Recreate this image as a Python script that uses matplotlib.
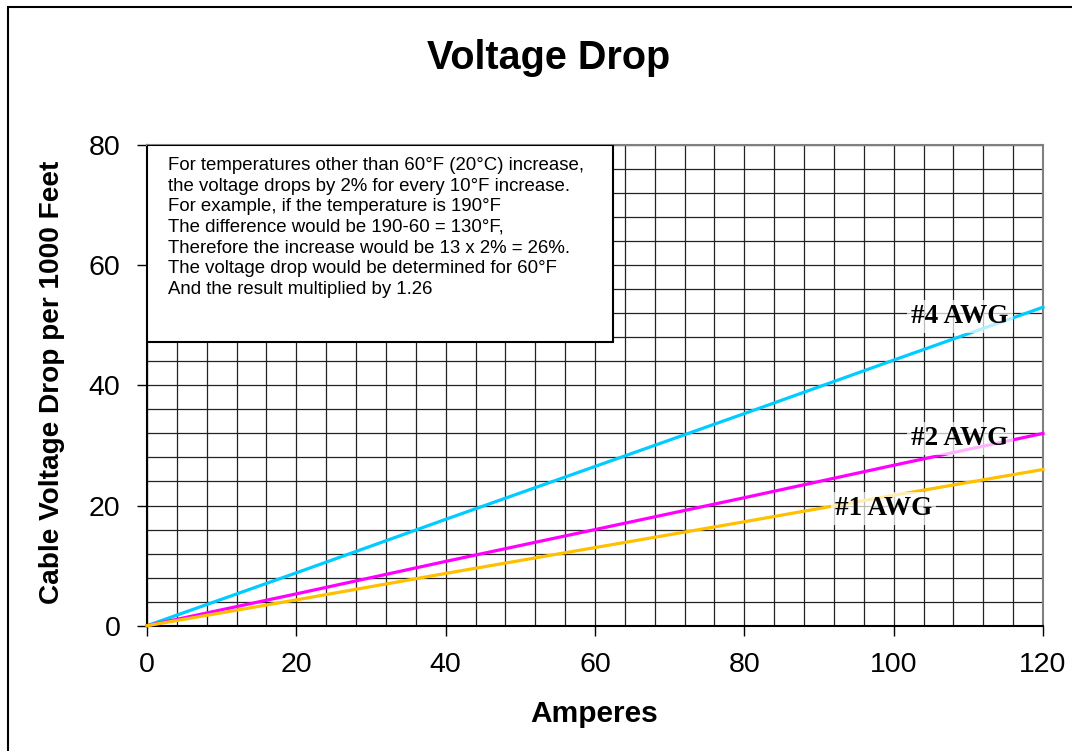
import matplotlib
matplotlib.use("Agg")
import matplotlib.pyplot as plt
from matplotlib.patches import Rectangle
from matplotlib.ticker import MultipleLocator

amperes = [0, 20, 40, 60, 80, 100, 120]
awg4 = [0, 8.8, 17.7, 26.5, 35.3, 44.2, 53.0]
awg2 = [0, 5.3, 10.7, 16.0, 21.3, 26.7, 32.0]
awg1 = [0, 4.3, 8.7, 13.0, 17.3, 21.7, 26.0]
series_names = ["#4 AWG", "#2 AWG", "#1 AWG"]
series_colors = ["#00CCFF", "#FF00FF", "#FFC000"]

note_lines = [
    "For temperatures other than 60°F (20°C) increase,",
    "the voltage drops by 2% for every 10°F increase.",
    "For example, if the temperature is 190°F",
    "The difference would be 190-60 = 130°F,",
    "Therefore the increase would be 13 x 2% = 26%.",
    "The voltage drop would be determined for 60°F",
    "And the result multiplied by 1.26",
]

sans = "Liberation Sans"
serif = "Liberation Serif"

fig = plt.figure(figsize=(10.72, 7.51), dpi=100)
W, H = 1072, 751
ax = fig.add_axes([147 / W, 1 - 625.7 / H, (1043 - 147) / W, (625.7 - 145) / H])

ax.set_xlim(0, 120)
ax.set_ylim(0, 80)
ax.xaxis.set_major_locator(MultipleLocator(20))
ax.yaxis.set_major_locator(MultipleLocator(20))
ax.xaxis.set_minor_locator(MultipleLocator(4))
ax.yaxis.set_minor_locator(MultipleLocator(4))
ax.grid(True, which="both", color="#222222", linewidth=0.9, zorder=0)
ax.set_axisbelow(True)
ax.tick_params(which="major", direction="out", length=7, width=1, labelsize=20.5, pad=12)
ax.tick_params(which="minor", length=0)
for lab in ax.get_xticklabels() + ax.get_yticklabels():
    lab.set_fontfamily(sans)

for s in ["left", "bottom"]:
    ax.spines[s].set_color("black")
    ax.spines[s].set_linewidth(1.5)
for s in ["top", "right"]:
    ax.spines[s].set_color("#808080")
    ax.spines[s].set_linewidth(1.5)

for vals, c in zip([awg4, awg2, awg1], series_colors):
    ax.plot(amperes, vals, color=c, linewidth=2.3, zorder=3, clip_on=False)

label_pos = [(108.9, 51.4), (108.9, 31.2), (98.6, 19.5)]
for name, (lx, ly) in zip(series_names, label_pos):
    ax.text(lx, ly, name, family=serif, fontweight="bold", fontsize=19.5,
            ha="center", va="center", zorder=5,
            bbox=dict(facecolor="white", edgecolor="none", alpha=0.7, pad=3))

# note box
ax.add_patch(Rectangle((0, 47.2), 62.4, 32.8, facecolor="white", edgecolor="black",
                       linewidth=1.5, zorder=4))
ax.text(2.8, 78.0, "\n".join(note_lines), family=sans, fontsize=13.4,
        ha="left", va="top", linespacing=1.28, zorder=5)

fig.text(549 / W, 1 - 58 / H, "Voltage Drop", family=sans, fontweight="bold",
         fontsize=28.5, ha="center", va="center")
fig.text(594 / W, 1 - 714 / H, "Amperes", family=sans, fontweight="bold",
         fontsize=21.5, ha="center", va="center")
fig.text(52 / W, 1 - 382 / H, "Cable Voltage Drop per 1000 Feet", family=sans,
         fontweight="bold", fontsize=20.2, ha="center", va="center", rotation=90)

# outer border
fig.patches.append(Rectangle((7.5 / W, -0.05), 1.2, 1 - 7.5 / H + 0.05,
                             transform=fig.transFigure, facecolor="none",
                             edgecolor="black", linewidth=1.5, zorder=10))

fig.savefig("out.png", dpi=100)
